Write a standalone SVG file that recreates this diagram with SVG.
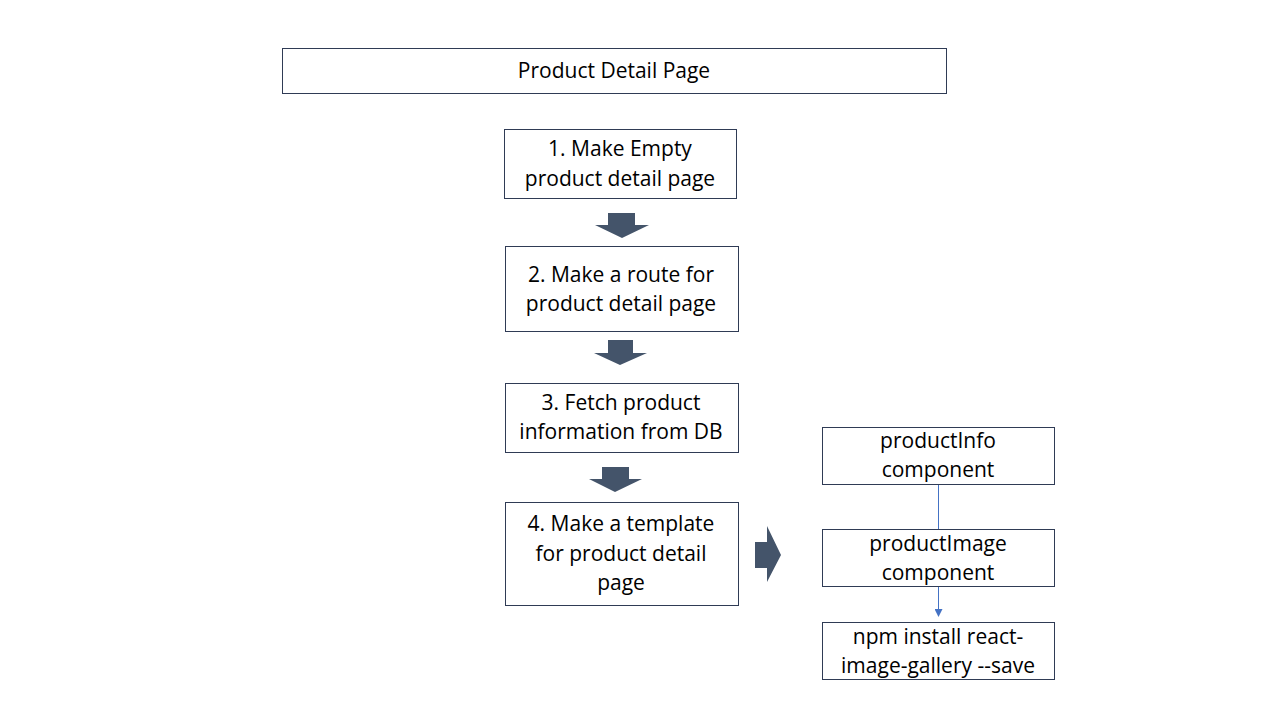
<svg xmlns="http://www.w3.org/2000/svg" width="1280" height="720" viewBox="0 0 1280 720">
<style>
.box{fill:#FFFFFF;stroke:#2F3B55;stroke-width:1}
.t{font-family:"Open Sans","Liberation Sans",sans-serif;font-size:21px;fill:#000000;text-anchor:middle}
.blk{fill:#44546A}
.ln{stroke:#4472C4;stroke-width:1;fill:none}
</style>
<defs>
<marker id="ah" markerWidth="8" markerHeight="8" refX="7" refY="4" orient="auto" markerUnits="userSpaceOnUse">
<path d="M0,0 L8,4 L0,8 Z" fill="#4472C4"/>
</marker>
</defs>
<rect width="1280" height="720" fill="#FFFFFF"/>
<g id="title">
<rect class="box" x="282.5" y="48.5" width="664" height="45"/>
<text class="t" x="614" y="78">Product Detail Page</text>
</g>
<g id="step1">
<rect class="box" x="504.5" y="129.5" width="232" height="69"/>
<text class="t" x="620" y="156">1. Make Empty</text>
<text class="t" x="620" y="186">product detail page</text>
</g>
<g id="step2">
<rect class="box" x="505.5" y="246.5" width="233" height="85"/>
<text class="t" x="621" y="282">2. Make a route for</text>
<text class="t" x="621" y="311">product detail page</text>
</g>
<g id="step3">
<rect class="box" x="505.5" y="383.5" width="233" height="69"/>
<text class="t" x="621" y="410">3. Fetch product</text>
<text class="t" x="621" y="439">information from DB</text>
</g>
<g id="step4">
<rect class="box" x="505.5" y="502.5" width="233" height="103"/>
<text class="t" x="621" y="531">4. Make a template</text>
<text class="t" x="621" y="561">for product detail</text>
<text class="t" x="621" y="590">page</text>
</g>
<g id="productInfo">
<rect class="box" x="822.5" y="427.5" width="232" height="57"/>
<text class="t" x="938" y="448">productInfo</text>
<text class="t" x="938" y="477">component</text>
</g>
<g id="productImage">
<rect class="box" x="822.5" y="529.5" width="232" height="57"/>
<text class="t" x="938" y="551">productImage</text>
<text class="t" x="938" y="580">component</text>
</g>
<g id="npm">
<rect class="box" x="822.5" y="622.5" width="232" height="57"/>
<text class="t" x="938" y="644">npm install react-</text>
<text class="t" x="938" y="673">image-gallery --save</text>
</g>
<g id="connectors">
<polygon class="blk" points="608,213 635,213 635,225 649,225 622,238 595,225 608,225"/>
<polygon class="blk" points="608,340 633,340 633,353 647,353 620,365 594,353 608,353"/>
<polygon class="blk" points="602,467 629,467 629,479 642,479 615,492 589,479 602,479"/>
<polygon class="blk" points="755,542 767,542 767,526 781,555 767,582 767,568 755,568"/>
<line class="ln" x1="938.5" y1="485" x2="938.5" y2="529"/>
<line class="ln" x1="938.5" y1="587" x2="938.5" y2="616" marker-end="url(#ah)"/>
</g>
</svg>
